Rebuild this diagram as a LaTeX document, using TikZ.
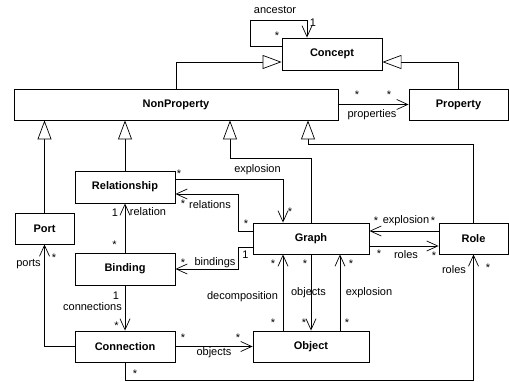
\documentclass[tikz,border=0pt]{standalone}
\usepackage{fontspec}
\setmainfont{Liberation Sans}
\usetikzlibrary{arrows.meta}
\begin{document}
\begin{tikzpicture}[x=1pt,y=-1pt,
  cls/.style={draw,line width=0.9pt,inner sep=0pt,font=\fontsize{11}{13}\selectfont\bfseries},
  gen/.style={-{Triangle[open,length=19pt,width=14pt,fill=white]},line width=0.7pt},
  nav/.style={-{Straight Barb[length=11pt,width=10pt,line width=0.7pt]},line width=0.7pt},
  lbl/.style={inner sep=0pt,anchor=base,yshift=-4pt,font=\fontsize{11}{13}\selectfont},
  mult/.style={inner sep=0pt,anchor=base,yshift=-6.3pt,font=\fontsize{11}{13}\selectfont}]
\useasboundingbox (0,0) rectangle (509,382);

% classes
\node[cls,minimum width=100pt,minimum height=32pt] (concept) at (332,54) {Concept};
\node[cls,minimum width=324pt,minimum height=31pt] (nonprop) at (176,104.5) {NonProperty};
\node[cls,minimum width=99pt,minimum height=31pt] (property) at (458.5,104.5) {Property};
\node[cls,minimum width=100pt,minimum height=32pt] (relship) at (125,187) {Relationship};
\node[cls,minimum width=59pt,minimum height=31pt] (port) at (44.5,228.5) {Port};
\node[cls,minimum width=100pt,minimum height=32pt] (binding) at (125,269) {Binding};
\node[cls,minimum width=116pt,minimum height=31pt] (graph) at (311,238.5) {Graph};
\node[cls,minimum width=69pt,minimum height=31pt] (role) at (473.5,238.5) {Role};
\node[cls,minimum width=100pt,minimum height=31pt] (conn) at (125,346.5) {Connection};
\node[cls,minimum width=116pt,minimum height=31pt] (object) at (311,346.5) {Object};

% generalizations
\draw[gen] (nonprop.north) |- ([yshift=-8pt]concept.west);
\draw[gen] (property.north) |- ([yshift=-8pt]concept.east);
\draw[gen] (port.north) -- (port.north |- nonprop.south);
\draw[gen] (relship.north) -- (relship.north |- nonprop.south);
\draw[gen] (graph.north) -- ++(0,-64) -| ([xshift=54pt]nonprop.south);
\draw[gen] (role.north) -- ++(0,-78) -| ([xshift=132pt]nonprop.south);

% associations
\draw[nav] ([yshift=8pt]concept.west) -- ++(-31,0) -- ++(0,-26) -| ([xshift=-25pt]concept.north);
\node[lbl] (l1) at (275,10) {ancestor};
\node[lbl] (l2) at (313,22.5) {1};
\node[mult] (m1) at (277,33) {*};

\draw[nav] (nonprop.east) -- (property.west);
\node[mult] (m2) at (357,92.5) {*};
\node[mult] (m3) at (389,92.5) {*};
\node[lbl] (l3) at (372,114) {properties};

\draw[nav] ([yshift=8pt]relship.east) -| ([xshift=-28pt]graph.north);
\node[mult] (m4) at (179,171.5) {*};
\node[lbl] (l4) at (257.5,169) {explosion};
\node[mult] (m5) at (290,209.5) {*};

\draw[nav] ([yshift=7.5pt]graph.west) -- ++(-14,0) |- ([yshift=-7pt]relship.east);
\node[mult] (m6) at (183,201.5) {*};
\node[lbl] (l5) at (210,205) {relations};
\node[mult] (m7) at (246,221.5) {*};

\draw[nav] ([yshift=-8.5pt]graph.west) -- ++(-14,0) |- (binding.east);
\node[lbl] (l6) at (245.5,255) {1};
\node[mult] (m8) at (183,260) {*};
\node[lbl] (l7) at (215,261.5) {bindings};

\draw[nav] (binding.north) -- (relship.south);
\node[lbl] (l8) at (115,213) {1};
\node[lbl] (l9) at (148,212) {relation};
\node[mult] (m9) at (114.5,242.5) {*};

\draw[nav] (binding.south) -- (conn.north);
\node[lbl] (l10) at (116,295) {1};
\node[lbl] (l11) at (92.5,306) {connections};
\node[mult] (m10) at (116.5,323) {*};

\draw[nav] (conn.west) -| (port.south);
\node[lbl] (l12) at (28.5,263) {ports};
\node[mult] (m11) at (54,255) {*};

\draw[nav] (conn.east) -- (object.west);
\node[mult] (m12) at (183,335) {*};
\node[mult] (m13) at (238,335) {*};
\node[lbl] (l13) at (214,351.5) {objects};

\draw[nav] (conn.south) -- ++(0,18) -| (role.south);
\node[mult] (m14) at (135,371.5) {*};
\node[lbl] (l14) at (454,269) {roles};
\node[mult] (m15) at (488,265) {*};

\draw[nav] ([xshift=-28pt]object.north) -- ([xshift=-28pt]graph.south);
\node[mult] (m16) at (273,261) {*};
\node[lbl] (l15) at (242.5,295) {decomposition};
\node[mult] (m17) at (273,320) {*};

\draw[nav] (graph.south) -- (object.north);
\node[mult] (m18) at (305,261) {*};
\node[lbl] (l16) at (308.5,291.5) {objects};
\node[mult] (m19) at (304,320) {*};

\draw[nav] ([xshift=29pt]object.north) -- ([xshift=29pt]graph.south);
\node[mult] (m20) at (351,261) {*};
\node[lbl] (l17) at (369,291.5) {explosion};
\node[mult] (m21) at (347,320) {*};

\draw[nav] ([yshift=7.5pt]role.west) -- ([yshift=7.5pt]graph.east);
\node[mult] (m22) at (376,218) {*};
\node[lbl] (l18) at (406,220) {explosion};
\node[mult] (m23) at (433,218) {*};

\draw[nav] ([yshift=-7.5pt]graph.east) -- ([yshift=-7.5pt]role.west);
\node[mult] (m24) at (379,251.5) {*};
\node[lbl] (l19) at (406,255) {roles};
\node[mult] (m25) at (434,253) {*};
\end{tikzpicture}
\end{document}
